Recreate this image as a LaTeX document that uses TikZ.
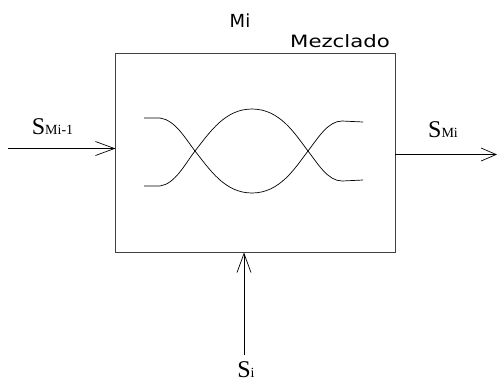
\documentclass[tikz,border=0pt]{standalone}
\usepackage{fontspec}
\setmainfont{Liberation Serif}
\newfontfamily\cadfont{DejaVu Sans}
\usetikzlibrary{arrows.meta}
\tikzset{
  line/.style={line width=0.7pt, black},
  boxstyle/.style={line width=0.9pt, draw=black!75},
  barb/.style={-{Straight Barb[length=19pt,width=14pt,line width=0.7pt]}},
  barbs/.style={-{Straight Barb[length=15pt,width=13pt,line width=0.7pt]}},
  slabel/.style={inner sep=0pt, anchor=base, font=\fontsize{24}{24}\selectfont},
  sub/.style={},
  cadlabel/.style={inner sep=0pt, anchor=base, font=\cadfont\fontsize{17}{17}\selectfont},
}
\newcommand{\subtx}[1]{{\fontsize{14}{14}\selectfont #1}}
\begin{document}
\begin{tikzpicture}[x=1pt,y=-1pt]
\useasboundingbox (0,0) rectangle (497,381);
% box
\draw[boxstyle] (115.5,53.5) rectangle (395,252.5);
\coordinate (boxL) at (115.5,148.5);
\coordinate (boxR) at (395,154.5);
\coordinate (boxB) at (244,252.5);
\coordinate (inStart) at (8,148.5);
\coordinate (outEnd) at (497,154.5);
\coordinate (botStart) at (244,355);
% arrows
\draw[line,barb] (inStart) -- (boxL);
\draw[line,barbs] (boxR) -- (outEnd);
\draw[line,barb] (botStart) -- (boxB);
% labels
\node[slabel] (sin) at (52.5,134) {S\subtx{Mi-1}};
\node[slabel] (sout) at (443,137) {S\subtx{Mi}};
\node[slabel] (si) at (246,377) {S\subtx{i}};
\node[cadlabel, font=\cadfont\fontsize{18}{18}\selectfont] (mi) at (240,27) {Mi};
\node[cadlabel] (mez) at (340,47) {\scalebox{1.25}[1]{Mezclado}};
% crossing curves
\draw[line] (144,118) -- (160,118)
  .. controls (175,120) and (185,138) .. (195,151)
  .. controls (210,170) and (225,193) .. (252,193)
  .. controls (280,193) and (295,168) .. (308,151)
  .. controls (318,138) and (328,121) .. (342,121) -- (363,122);
\draw[line] (144,186) -- (160,186)
  .. controls (175,184) and (185,164) .. (195,151)
  .. controls (210,132) and (225,109) .. (252,109)
  .. controls (280,109) and (295,134) .. (308,151)
  .. controls (318,164) and (328,181) .. (342,181) -- (363,180);
\end{tikzpicture}
\end{document}
